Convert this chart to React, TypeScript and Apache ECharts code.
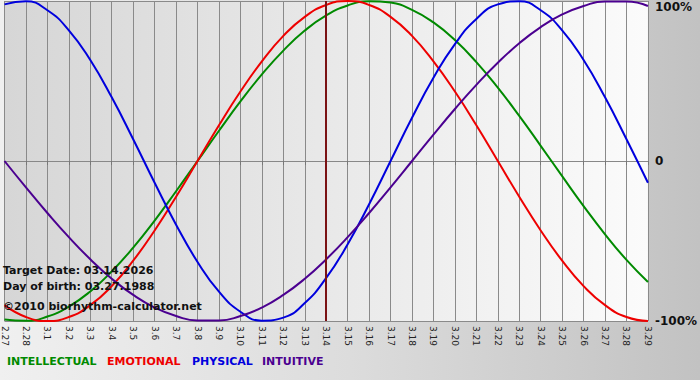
import React, { useEffect, useRef } from 'react';
import * as echarts from 'echarts';

const categories = [
  '2.27', '2.28', '3.1', '3.2', '3.3', '3.4', '3.5', '3.6', '3.7', '3.8', '3.9', '3.10',
  '3.11', '3.12', '3.13', '3.14', '3.15', '3.16', '3.17', '3.18', '3.19', '3.20', '3.21',
  '3.22', '3.23', '3.24', '3.25', '3.26', '3.27', '3.28', '3.29',
];

const intellectual = [
  -99.0, -99.9, -97.2, -91.0, -81.5, -69.0, -54.1, -37.2, -18.9, 0, 18.9, 37.2, 54.1, 69.0,
  81.5, 91.0, 97.2, 99.9, 99.0, 94.5, 86.6, 75.6, 61.8, 45.8, 28.2, 9.5, -9.5, -28.2, -45.8,
  -61.8, -75.6,
];
const emotional = [
  -90.1, -97.5, -100, -97.5, -90.1, -78.2, -62.3, -43.4, -22.3, 0, 22.3, 43.4, 62.3, 78.2,
  90.1, 97.5, 100, 97.5, 90.1, 78.2, 62.3, 43.4, 22.3, 0, -22.3, -43.4, -62.3, -78.2, -90.1,
  -97.5, -100,
];
const physical = [
  97.9, 99.8, 94.2, 81.7, 63.1, 39.8, 13.6, -13.6, -39.8, -63.1, -81.7, -94.2, -99.8, -97.9,
  -88.8, -73.1, -52.0, -27.0, 0, 27.0, 52.0, 73.1, 88.8, 97.9, 99.8, 94.2, 81.7, 63.1, 39.8,
  13.6, -13.6,
];
const intuitive = [
  0, -16.5, -32.5, -47.6, -61.4, -73.6, -83.7, -91.6, -96.9, -99.7, -99.7, -96.9, -91.6,
  -83.7, -73.6, -61.4, -47.6, -32.5, -16.5, 0, 16.5, 32.5, 47.6, 61.4, 73.6, 83.7, 91.6, 96.9,
  99.7, 99.7, 96.9,
];

const targetDay = '3.14';
const infoLines = ['Target Date: 03.14.2026', 'Day of birth: 03.27.1988', '©2010 biorhythm-calculator.net'];
const legendNames = ['INTELLECTUAL', 'EMOTIONAL', 'PHYSICAL', 'INTUITIVE'];
const legendColors = ['#008a00', '#ee0000', '#0000dd', '#4b0090'];

const FONT = 'DejaVu Sans, Verdana, sans-serif';

export default function App() {
  const ref = useRef<HTMLDivElement>(null);

  useEffect(() => {
    const chart = echarts.init(ref.current!, null, { renderer: 'svg' });
    const mkSeries = (name: string, data: number[], color: string, extra: any = {}) => ({
      name,
      type: 'line',
      data,
      smooth: true,
      symbol: 'none',
      lineStyle: { color, width: 2 },
      itemStyle: { color },
      ...extra,
    });
    const legendX = [7, 107, 192, 262];
    chart.setOption({
      animation: false,
      grid: {
        left: 0,
        right: 49,
        top: 1,
        bottom: 59,
        show: true,
        borderWidth: 0,
        backgroundColor: new echarts.graphic.LinearGradient(0, 0, 1, 0, [
          { offset: 0, color: '#d6d6d6' },
          { offset: 1, color: '#fbfbfb' },
        ]),
      },
      xAxis: {
        type: 'category',
        data: categories,
        boundaryGap: false,
        axisLine: { show: true, lineStyle: { color: '#888888', width: 1 } },
        axisTick: { show: true, length: 4, interval: 0, lineStyle: { color: '#777777' } },
        splitLine: { show: true, interval: 0, lineStyle: { color: '#8a8a8a', width: 1 } },
        axisLabel: {
          interval: 0,
          rotate: -90,
          margin: 5,
          fontSize: 9,
          color: '#222222',
          fontFamily: FONT,
        },
      },
      yAxis: {
        type: 'value',
        position: 'right',
        min: -100,
        max: 100,
        interval: 100,
        axisLine: { show: false },
        axisTick: { show: false },
        splitLine: { show: true, lineStyle: { color: '#8a8a8a', width: 1 } },
        axisLabel: {
          margin: 7,
          fontSize: 12,
          fontWeight: 'bold',
          color: '#111111',
          fontFamily: FONT,
          formatter: (v: number) => (v === 100 ? '{t|100%}' : v === 0 ? '0' : '-100%'),
          rich: {
            t: {
              padding: [12, 0, 0, 0],
              fontSize: 12,
              fontWeight: 'bold',
              color: '#111111',
              fontFamily: FONT,
            },
          },
        },
      },
      series: [
        mkSeries('Intellectual', intellectual, legendColors[0]),
        mkSeries('Emotional', emotional, legendColors[1], {
          markLine: {
            silent: true,
            symbol: ['none', 'none'],
            label: { show: false },
            lineStyle: { color: '#7a1214', width: 2, type: 'solid' },
            data: [{ xAxis: targetDay }],
          },
        }),
        mkSeries('Physical', physical, legendColors[2]),
        mkSeries('Intuitive', intuitive, legendColors[3]),
      ],
      graphic: [
        ...infoLines.map((t, i) => ({
          type: 'text',
          left: 3,
          top: [265, 281, 301][i],
          z: 100,
          style: {
            text: t,
            fill: '#111111',
            font: `bold 11px ${FONT}`,
          },
        })),
        ...legendNames.map((t, i) => ({
          type: 'text',
          left: legendX[i],
          top: 356,
          style: {
            text: t,
            fill: legendColors[i],
            font: `bold 11px ${FONT}`,
          },
        })),
      ],
    });
    return () => chart.dispose();
  }, []);

  return (
    <div
      ref={ref}
      style={{
        position: 'fixed',
        left: 0,
        top: 0,
        width: 700,
        height: 380,
        background: 'linear-gradient(90deg, #f0f0f0 0%, #dcdcdc 50%, #c2c2c2 100%)',
      }}
    />
  );
}
